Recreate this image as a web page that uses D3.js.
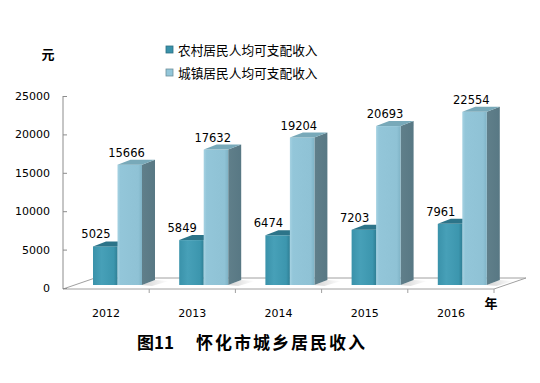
<!DOCTYPE html>
<html><head><meta charset="utf-8">
<script src="https://cdn.jsdelivr.net/npm/d3@7"></script>
<style>body{margin:0;background:#fff}svg{display:block}</style>
</head><body>
<svg id="c" width="540" height="383"></svg>
<script>
const years = ["2012","2013","2014","2015","2016"];
const rural = [5025,5849,6474,7203,7961];
const urban = [15666,17632,19204,20693,22554];
const seriesNames = ["农村居民人均可支配收入","城镇居民人均可支配收入"];
const yTicks = [0,5000,10000,15000,20000,25000];

const svg = d3.select("#c");
const defs = svg.append("defs");
function lg(id, stops){
  const g = defs.append("linearGradient").attr("id",id).attr("x1","0").attr("x2","1").attr("y1","0").attr("y2","0");
  stops.forEach(s=>g.append("stop").attr("offset",s[0]).attr("stop-color",s[1]));
}
lg("ruralFront",[[0,"#3a92aa"],[0.35,"#47a0b8"],[0.85,"#3c96ae"],[1,"#2f7f95"]]);
lg("urbanFront",[[0,"#a6d2e2"],[0.12,"#93c6d9"],[0.85,"#8fc2d5"],[1,"#7fb3c6"]]);
lg("urbanSide",[[0,"#607f8a"],[1,"#587884"]]);
lg("shadow",[[0,"#c8c8c8"],[1,"#ffffff"]]);

const x0 = d3.scaleBand().domain(years).range([63,494]);
const x1 = d3.scaleBand().domain(seriesNames).range([30,79]);
const y = d3.scaleLinear().domain([0,25000]).range([288,96]);
const dx = 13, dy = -5;   // bar depth
const fdx = 32, fdy = -11; // floor depth
const base = 285, lift = 3;

// floor
const fl = 63, fr = 494, fy = 289;
svg.append("polygon")
  .attr("points",[[fl,fy],[fr,fy],[fr+fdx,fy+fdy],[fl+fdx,fy+fdy]].map(p=>p.join(",")).join(" "))
  .attr("fill","#fff").attr("stroke","#a0a0a0").attr("stroke-width",1);

// shadows on floor
years.forEach(yr=>{
  const xr = x0(yr)+x1(seriesNames[1])+x1.bandwidth();
  svg.append("polygon")
    .attr("points",[[xr,base],[xr+dx,base+dy],[xr+dx+14,base+dy+1],[xr+10,base+1]].map(p=>p.join(",")).join(" "))
    .attr("fill","url(#shadow)").attr("opacity",0.8);
});

// axis
const axis = d3.axisRight(y).tickValues(yTicks).tickSize(4).tickFormat("");
const ag = svg.append("g").attr("transform","translate(63,0)").call(axis);
ag.select(".domain").attr("stroke","#8c8c8c").attr("d","M0,96V289");
ag.selectAll(".tick line").attr("stroke","#8c8c8c");
svg.append("g").selectAll("text").data(yTicks).join("text")
  .attr("x",50).attr("y",d=>y(d)+4).attr("text-anchor","end")
  .attr("font-family","DejaVu Sans, Verdana, sans-serif").attr("font-size",11).attr("fill","#000")
  .text(d=>d);

// front edge ticks
const xg = svg.append("g").attr("transform",`translate(0,${fy})`)
  .call(d3.axisBottom(x0).tickSize(0).tickFormat(""));
xg.select(".domain").remove();
svg.append("g").selectAll("line").data(years.slice(1).concat(["end"])).join("line")
  .attr("x1",d=>d==="end"?fr:x0(d)).attr("x2",d=>d==="end"?fr:x0(d))
  .attr("y1",fy).attr("y2",fy+4).attr("stroke","#a0a0a0");
svg.append("g").selectAll("text").data(years).join("text")
  .attr("x",d=>x0(d)+x0.bandwidth()/2).attr("y",317).attr("text-anchor","middle")
  .attr("font-family","DejaVu Sans, Verdana, sans-serif").attr("font-size",11).attr("fill","#000")
  .text(d=>d);

// bars
function bar3d(g, xl, w, v, front, top, side){
  const yt = y(v) - lift;
  g.append("polygon").attr("points",[[xl+w,yt],[xl+w+dx,yt+dy],[xl+w+dx,base+dy],[xl+w,base]].map(p=>p.join(",")).join(" ")).attr("fill",side);
  g.append("rect").attr("x",xl).attr("y",yt).attr("width",w).attr("height",base-yt).attr("fill",front);
  g.append("polygon").attr("points",[[xl,yt],[xl+w,yt],[xl+w+dx,yt+dy],[xl+dx,yt+dy]].map(p=>p.join(",")).join(" ")).attr("fill",top);
}
const bg = svg.append("g");
years.forEach((yr,i)=>{
  const xr = x0(yr)+x1(seriesNames[0]);
  const xu = x0(yr)+x1(seriesNames[1]);
  const w = x1.bandwidth();
  bar3d(bg, xr, w, rural[i], "url(#ruralFront)", "#2c7489", "#2a6f82");
  bar3d(bg, xu, w, urban[i], "url(#urbanFront)", "#78a9b9", "url(#urbanSide)");
});
// value labels
const lab = svg.append("g").attr("font-family","DejaVu Sans, Verdana, sans-serif").attr("font-size",11.5).attr("fill","#000").attr("text-anchor","middle");
years.forEach((yr,i)=>{
  lab.append("text").attr("x",x0(yr)+x1(seriesNames[0])+3).attr("y",y(rural[i])-lift+dy-3).text(rural[i]);
  lab.append("text").attr("x",x0(yr)+x1(seriesNames[1])+9).attr("y",y(urban[i])-lift+dy-3).text(urban[i]);
});

// legend
const leg = svg.append("g");
const swatch = ["#3a92aa","#93c6d9"];
seriesNames.forEach((s,i)=>{
  const ly = 50 + i*23;
  leg.append("rect").attr("x",166).attr("y",ly-4).attr("width",7).attr("height",7).attr("fill",swatch[i]).attr("stroke",i?"#6d8f9b":"#2c6f82").attr("stroke-width",0.8);
  leg.append("text").attr("x",178).attr("y",ly+4.5).attr("font-family","Noto Sans CJK SC, sans-serif").attr("font-size",12.7).attr("fill","#000").text(s);
});

// unit labels
svg.append("text").attr("x",48).attr("y",59).attr("text-anchor","middle").attr("font-family","Noto Sans CJK SC, sans-serif").attr("font-weight","bold").attr("font-size",13).text("元");
svg.append("text").attr("x",491).attr("y",308).attr("text-anchor","middle").attr("font-family","Noto Sans CJK SC, sans-serif").attr("font-weight","bold").attr("font-size",13).text("年");

// title
const tf = "Noto Sans CJK SC, sans-serif";
svg.append("text").attr("x",137).attr("y",349).attr("font-family",tf).attr("font-weight","bold").attr("font-size",17).attr("fill","#000").text("图11");
svg.append("text").attr("x",196).attr("y",349).attr("font-family",tf).attr("font-weight","bold").attr("font-size",17).attr("letter-spacing",2).attr("fill","#000").text("怀化市城乡居民收入");
</script>
</body></html>
